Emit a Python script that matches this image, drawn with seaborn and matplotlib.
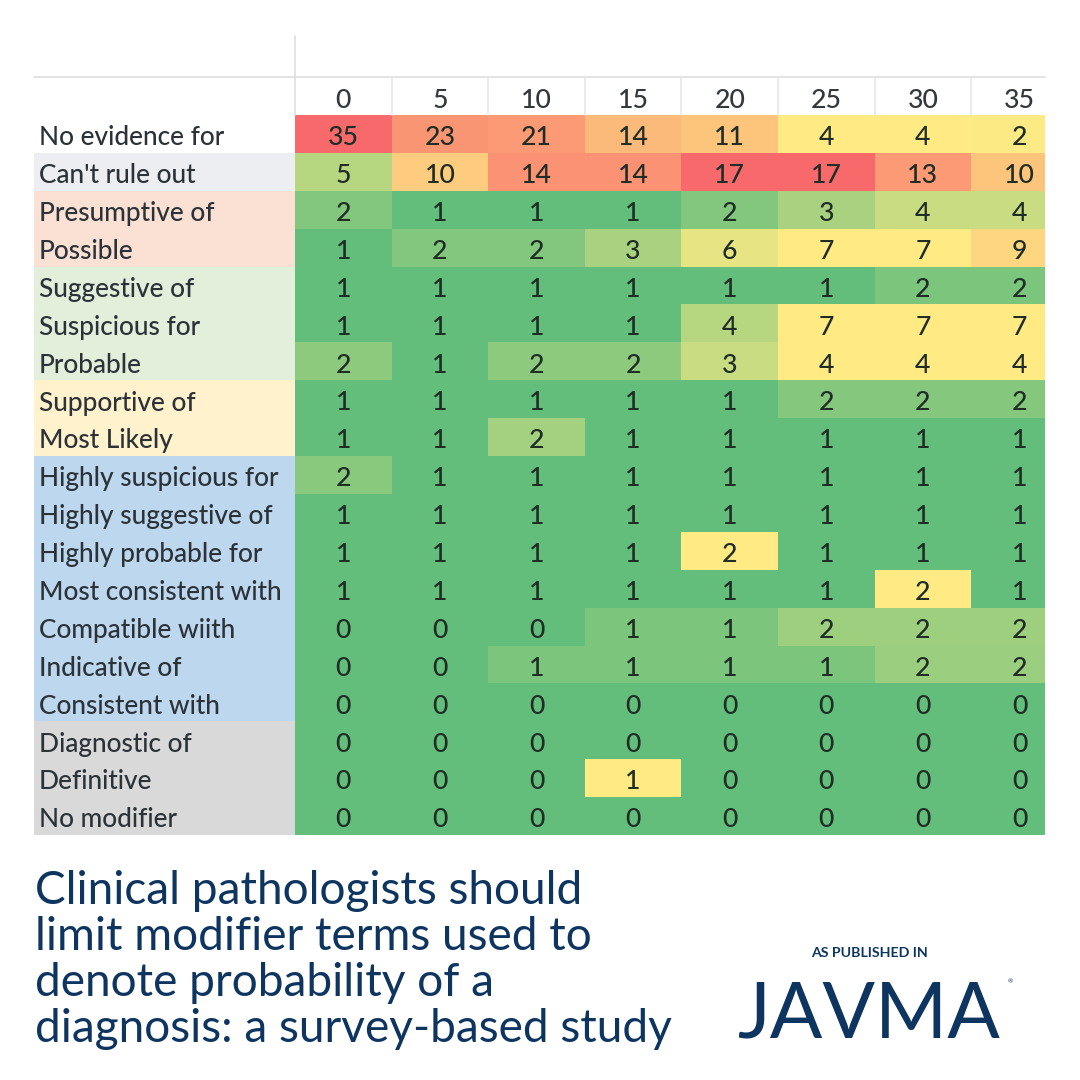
import numpy as np
import seaborn as sns
import matplotlib
matplotlib.use("Agg")
import matplotlib.pyplot as plt
from matplotlib.colors import LinearSegmentedColormap, ListedColormap
from matplotlib.lines import Line2D

# ---------- data ----------
columns = [0, 5, 10, 15, 20, 25, 30, 35]
terms = ["No evidence for", "Can't rule out", "Presumptive of", "Possible", "Suggestive of",
         "Suspicious for", "Probable", "Supportive of", "Most Likely", "Highly suspicious for",
         "Highly suggestive of", "Highly probable for", "Most consistent with", "Compatible wiith",
         "Indicative of", "Consistent with", "Diagnostic of", "Definitive", "No modifier"]
counts = [
    [35, 23, 21, 14, 11, 4, 4, 2],
    [5, 10, 14, 14, 17, 17, 13, 10],
    [2, 1, 1, 1, 2, 3, 4, 4],
    [1, 2, 2, 3, 6, 7, 7, 9],
    [1, 1, 1, 1, 1, 1, 2, 2],
    [1, 1, 1, 1, 4, 7, 7, 7],
    [2, 1, 2, 2, 3, 4, 4, 4],
    [1, 1, 1, 1, 1, 2, 2, 2],
    [1, 1, 2, 1, 1, 1, 1, 1],
    [2, 1, 1, 1, 1, 1, 1, 1],
    [1, 1, 1, 1, 1, 1, 1, 1],
    [1, 1, 1, 1, 2, 1, 1, 1],
    [1, 1, 1, 1, 1, 1, 2, 1],
    [0, 0, 0, 1, 1, 2, 2, 2],
    [0, 0, 1, 1, 1, 1, 2, 2],
    [0, 0, 0, 0, 0, 0, 0, 0],
    [0, 0, 0, 0, 0, 0, 0, 0],
    [0, 0, 0, 1, 0, 0, 0, 0],
    [0, 0, 0, 0, 0, 0, 0, 0],
]
# shade of each cell (0 green, .5 yellow, 1 red)
shades = [
    [1.00, 0.83, 0.81, 0.69, 0.65, 0.50, 0.50, 0.49],
    [0.27, 0.62, 0.84, 0.84, 1.00, 1.00, 0.81, 0.65],
    [0.10, 0.00, 0.00, 0.00, 0.10, 0.22, 0.33, 0.33],
    [0.00, 0.10, 0.10, 0.22, 0.42, 0.50, 0.50, 0.58],
    [0.00, 0.00, 0.00, 0.00, 0.00, 0.00, 0.08, 0.08],
    [0.00, 0.00, 0.00, 0.00, 0.27, 0.50, 0.50, 0.50],
    [0.14, 0.00, 0.14, 0.14, 0.33, 0.50, 0.50, 0.50],
    [0.00, 0.00, 0.00, 0.00, 0.00, 0.11, 0.11, 0.11],
    [0.00, 0.00, 0.21, 0.00, 0.00, 0.00, 0.00, 0.00],
    [0.12, 0.00, 0.00, 0.00, 0.00, 0.00, 0.00, 0.00],
    [0.00, 0.00, 0.00, 0.00, 0.00, 0.00, 0.00, 0.00],
    [0.00, 0.00, 0.00, 0.00, 0.50, 0.00, 0.00, 0.00],
    [0.00, 0.00, 0.00, 0.00, 0.00, 0.00, 0.50, 0.00],
    [0.00, 0.00, 0.00, 0.08, 0.08, 0.19, 0.19, 0.19],
    [0.00, 0.00, 0.08, 0.08, 0.08, 0.08, 0.18, 0.18],
    [0.00, 0.00, 0.00, 0.00, 0.00, 0.00, 0.00, 0.00],
    [0.00, 0.00, 0.00, 0.00, 0.00, 0.00, 0.00, 0.00],
    [0.00, 0.00, 0.00, 0.50, 0.00, 0.00, 0.00, 0.00],
    [0.00, 0.00, 0.00, 0.00, 0.00, 0.00, 0.00, 0.00],
]
term_groups = [0, 1, 2, 2, 3, 3, 3, 4, 4, 5, 5, 5, 5, 5, 5, 5, 6, 6, 6]
group_colors = ["#FFFFFF", "#ECEEF1", "#FBE0D4", "#E2EFDB", "#FFF2CC", "#BDD7EE", "#D9D9D9"]
headline = ["Clinical pathologists should", "limit modifier terms used to",
            "denote probability of a", "diagnosis: a survey-based study"]

# ---------- layout ----------
W = H = 1080
sns.set_theme(style="white")
plt.rcParams["font.family"] = ["Lato", "DejaVu Sans"]
fig = plt.figure(figsize=(W / 100, H / 100), dpi=100, facecolor="white")


def axes_px(x0, y0, x1, y1):
    return fig.add_axes([x0 / W, 1 - y1 / H, (x1 - x0) / W, (y1 - y0) / H])


TEXT = "#1F2D25"
cmap = LinearSegmentedColormap.from_list("excel", ["#63BE7B", "#FFEB84", "#F8696B"])

# row labels
ax_l = axes_px(34, 115, 295, 835)
sns.heatmap(np.array(term_groups).reshape(-1, 1), ax=ax_l, cbar=False,
            cmap=ListedColormap(group_colors), vmin=-0.5, vmax=6.5,
            xticklabels=False, yticklabels=False)
for i, t in enumerate(terms):
    ax_l.text(0.019, i + 0.6, t, va="center", ha="left", fontsize=18.9,
              fontweight="medium", color="#2B3238")

# main heat map
ax = axes_px(295, 115, 1045, 835)
sns.heatmap(np.array(shades), ax=ax, cmap=cmap, vmin=0, vmax=1, cbar=False,
            annot=np.array(counts), fmt="d",
            annot_kws={"fontsize": 19.2, "color": TEXT, "fontweight": "medium"},
            xticklabels=columns, yticklabels=False)
for t in ax.texts:
    x, y = t.get_position()
    t.set_position((x, y + 0.1))
ax.set_xlim(0, 750 / 96.6)
ax.xaxis.tick_top()
ax.tick_params(axis="x", length=0, pad=1.5, labelsize=19.2, labelcolor="#33383C", rotation=0)
for lab in ax.get_xticklabels():
    lab.set_fontweight("medium")
for s in ax.spines.values():
    s.set_visible(False)

# sheet grid lines
GRID = "#DEDEDE"


def line(x0, y0, x1, y1, color=GRID, lw=1.2):
    fig.add_artist(Line2D([x0 / W, x1 / W], [1 - y0 / H, 1 - y1 / H], color=color, lw=lw))


line(34, 77, 1045, 77)
line(295, 36, 295, 115)
for k in range(1, 8):
    line(295 + 96.6 * k, 77, 295 + 96.6 * k, 115, color="#E8E8E8")

# headline
NAVY = "#0E3460"
for i, t in enumerate(headline):
    fig.text(35 / W, 1 - (904 + 46 * i) / H, t, fontsize=33.1, color=NAVY,
             fontweight="normal", va="baseline", ha="left")

# logo
fig.text(869 / W, 1 - 953 / H, "AS PUBLISHED IN", fontsize=10.2, color=NAVY, fontweight="bold",
         ha="center", va="center")
fig.text(869 / W, 1 - 1037 / H, "JAVMA", fontsize=56, color=NAVY, ha="center", va="baseline")
fig.text(1010 / W, 1 - 982 / H, "®", fontsize=4.5, color=NAVY, ha="center", va="center")

fig.savefig("out.png", dpi=100, facecolor="white")
